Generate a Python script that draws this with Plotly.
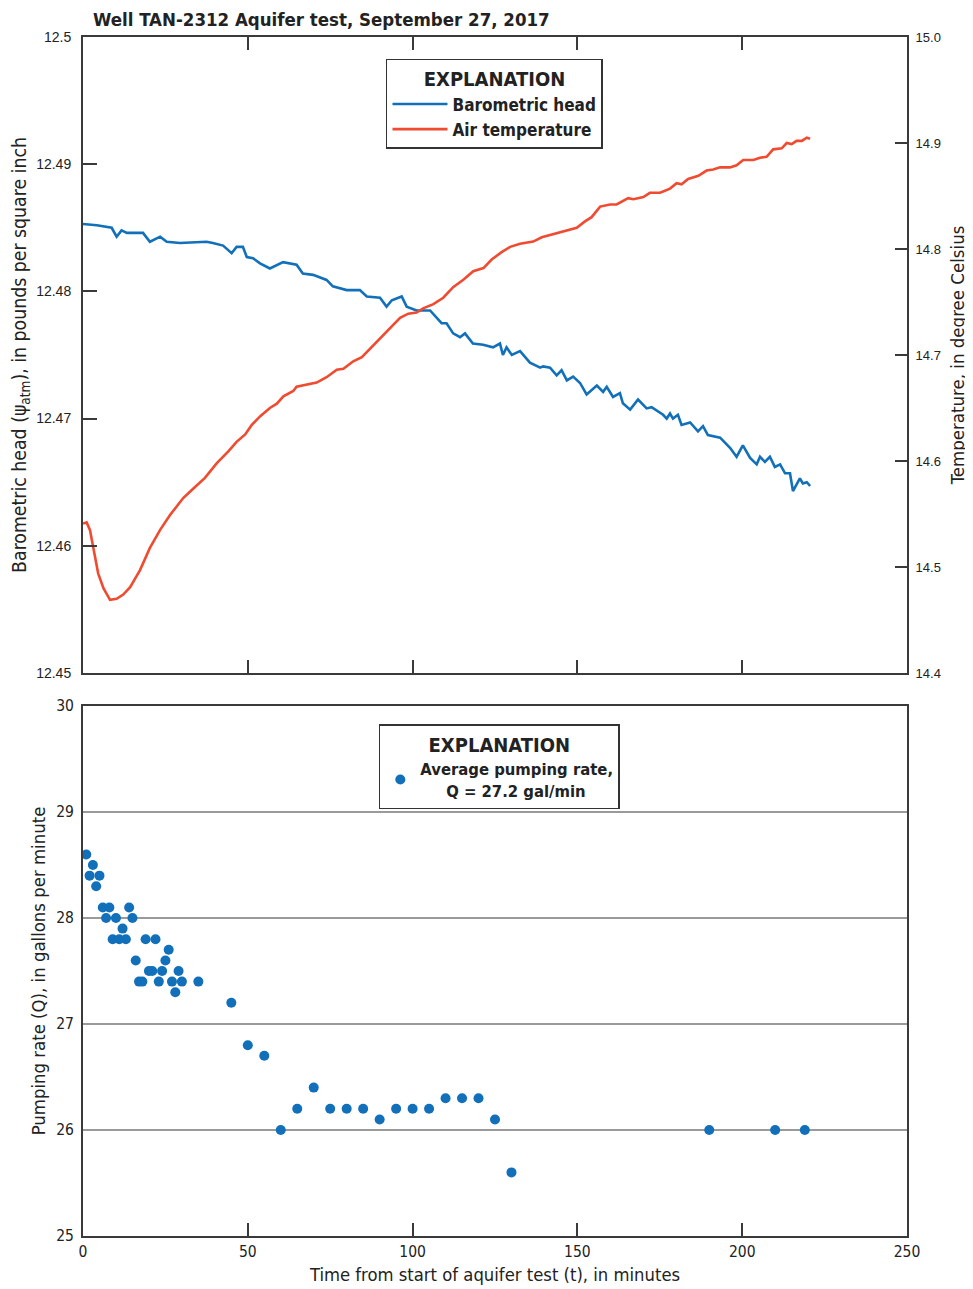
import plotly.graph_objects as go

# ---------------- data ----------------
head_t = [0.0, 4.2, 8.7, 10.2, 11.7, 13.3, 18.2, 20.3, 23.4, 25.4, 29.4, 37.5, 39.4, 42.5, 45.1,
          46.6, 48.5, 49.7, 51.6, 53.7, 56.7, 60.7, 64.8, 66.7, 69.8, 73.9, 75.8, 80.0, 84.0, 86.1,
          90.1, 92.1, 93.7, 96.7, 98.2, 101.2, 105.3, 108.8, 110.3, 112.3, 114.4, 115.9, 118.3,
          121.4, 124.4, 126.5, 127.4, 128.5, 130.1, 132.6, 135.6, 138.7, 139.6, 141.7, 143.7,
          145.2, 146.8, 148.7, 150.8, 152.8, 155.9, 157.8, 158.9, 160.8, 162.9, 163.8, 166.0,
          168.4, 171.0, 172.5, 176.0, 177.1, 178.1, 179.0, 180.5, 181.6, 184.2, 186.6, 188.1,
          189.6, 193.3, 196.3, 198.3, 200.2, 202.4, 204.4, 205.4, 206.9, 208.4, 209.9, 211.5,
          213.0, 214.5, 215.4, 217.5, 218.4, 219.6, 220.6]
head_psi = [12.4853, 12.4852, 12.4850, 12.4843, 12.4848, 12.4846, 12.4846, 12.4839, 12.4843,
            12.4839, 12.4838, 12.4839, 12.4838, 12.4836, 12.4830, 12.4835, 12.4835, 12.4827,
            12.4826, 12.4822, 12.4818, 12.4823, 12.4821, 12.4814, 12.4813, 12.4809, 12.4804,
            12.4801, 12.4801, 12.4796, 12.4795, 12.4788, 12.4793, 12.4796, 12.4788, 12.4785,
            12.4785, 12.4775, 12.4775, 12.4767, 12.4764, 12.4767, 12.4759, 12.4758, 12.4756,
            12.4759, 12.4750, 12.4756, 12.4750, 12.4753, 12.4744, 12.4740, 12.4741, 12.4740,
            12.4734, 12.4738, 12.4730, 12.4733, 12.4728, 12.4719, 12.4726, 12.4721, 12.4725,
            12.4717, 12.4720, 12.4712, 12.4707, 12.4715, 12.4708, 12.4709, 12.4703, 12.4700,
            12.4704, 12.4700, 12.4703, 12.4695, 12.4697, 12.4690, 12.4694, 12.4687, 12.4685,
            12.4677, 12.4670, 12.4679, 12.4669, 12.4664, 12.4670, 12.4666, 12.4670, 12.4662,
            12.4664, 12.4657, 12.4657, 12.4643, 12.4653, 12.4649, 12.4650, 12.4647]

temp_t = [0.0, 1.1, 2.1, 3.1, 4.6, 6.2, 8.2, 10.2, 12.2, 14.3, 17.3, 20.3, 23.4, 26.4, 30.4,
          33.5, 37.0, 40.6, 44.1, 46.6, 49.2, 51.2, 53.7, 56.7, 58.8, 60.8, 63.8, 64.8, 67.9,
          69.9, 70.9, 73.9, 77.0, 79.0, 82.0, 84.6, 87.1, 90.1, 93.1, 96.2, 98.7, 101.2, 103.2,
          106.3, 109.3, 112.3, 115.4, 118.4, 121.5, 124.0, 127.0, 129.6, 132.6, 136.6, 139.2,
          142.7, 145.7, 149.8, 152.3, 154.3, 156.9, 159.9, 161.9, 163.9, 165.4, 167.0, 170.0,
          172.0, 175.1, 178.1, 180.1, 181.6, 183.6, 186.7, 189.2, 191.2, 193.3, 196.3, 198.3,
          200.3, 203.4, 205.4, 207.4, 209.4, 212.0, 213.5, 215.0, 216.5, 218.1, 219.6, 220.6]
temp_c = [14.541, 14.542, 14.535, 14.519, 14.494, 14.480, 14.469, 14.470, 14.474, 14.481,
          14.497, 14.518, 14.535, 14.549, 14.565, 14.574, 14.584, 14.598, 14.609, 14.618,
          14.625, 14.634, 14.642, 14.650, 14.654, 14.661, 14.666, 14.670, 14.672, 14.674,
          14.674, 14.679, 14.686, 14.687, 14.694, 14.698, 14.706, 14.716, 14.725, 14.735,
          14.739, 14.740, 14.744, 14.748, 14.754, 14.764, 14.771, 14.779, 14.782, 14.790,
          14.797, 14.802, 14.805, 14.807, 14.811, 14.814, 14.816, 14.820, 14.826, 14.830,
          14.840, 14.842, 14.842, 14.845, 14.848, 14.847, 14.849, 14.853, 14.853, 14.857,
          14.862, 14.861, 14.866, 14.869, 14.874, 14.875, 14.877, 14.877, 14.879, 14.884,
          14.884, 14.886, 14.887, 14.894, 14.895, 14.900, 14.899, 14.902, 14.902, 14.905,
          14.904]

pump_t = [1, 2, 3, 4, 5, 6, 7, 8, 9, 10, 11, 12, 13, 14, 15, 16, 17, 18, 19, 20, 21, 22, 23,
          24, 25, 26, 27, 28, 29, 30, 35, 45, 50, 55, 60, 65, 70, 75, 80, 85, 90, 95, 100, 105,
          110, 115, 120, 125, 130, 190, 210, 219]
pump_q = [28.6, 28.4, 28.5, 28.3, 28.4, 28.1, 28.0, 28.1, 27.8, 28.0, 27.8, 27.9, 27.8, 28.1,
          28.0, 27.6, 27.4, 27.4, 27.8, 27.5, 27.5, 27.8, 27.4, 27.5, 27.6, 27.7, 27.4, 27.3,
          27.5, 27.4, 27.4, 27.2, 26.8, 26.7, 26.0, 26.2, 26.4, 26.2, 26.2, 26.2, 26.1, 26.2,
          26.2, 26.2, 26.3, 26.3, 26.3, 26.1, 25.6, 26.0, 26.0, 26.0]

head_ticks = [12.45, 12.46, 12.47, 12.48, 12.49, 12.5]
head_ticktext = ["12.45", "12.46", "12.47", "12.48", "12.49", "12.5"]
temp_ticks = [14.4, 14.5, 14.6, 14.7, 14.8, 14.9, 15.0]
x_ticks = [0, 50, 100, 150, 200, 250]
q_ticks = [25, 26, 27, 28, 29, 30]

# ---------------- style ----------------
BLUE = "#1170B9"
RED = "#F04B30"
AX = "#3a3a3a"
TXT = "#222"
NARROW = "DejaVu Sans Condensed, Liberation Sans Narrow, DejaVu Sans, sans-serif"
REG = "Liberation Sans, Arial, sans-serif"

fig = go.Figure()

fig.add_trace(go.Scatter(x=head_t, y=head_psi, mode="lines", name="<b>Barometric head</b>",
                         line=dict(color=BLUE, width=2.6), xaxis="x", yaxis="y",
                         legend="legend"))
fig.add_trace(go.Scatter(x=temp_t, y=temp_c, mode="lines", name="<b>Air temperature</b>",
                         line=dict(color=RED, width=2.6), xaxis="x", yaxis="y2",
                         legend="legend"))
fig.add_trace(go.Scatter(x=pump_t, y=pump_q, mode="markers",
                         name="<b>Average pumping rate,</b><br><b>     Q = 27.2 gal/min</b>",
                         marker=dict(color=BLUE, size=10), xaxis="x2", yaxis="y3",
                         legend="legend2"))

top_dom = [0.4696, 1.0]
bot_dom = [0.0, 0.4420]

fig.update_layout(
    width=965, height=1281,
    paper_bgcolor="white", plot_bgcolor="white",
    margin=dict(l=75, r=66, t=29, b=53),
    font=dict(family=NARROW, color=TXT),
    title=dict(text="<b>Well TAN-2312 Aquifer test, September 27, 2017</b>",
               x=0.0881, xanchor="left", y=0.99102, yanchor="middle",
               font=dict(family=NARROW, size=18.5, color=TXT)),
    showlegend=True,
    xaxis=dict(domain=[0, 1], anchor="y", range=[0, 250], tickvals=x_ticks,
               showticklabels=False, ticks="inside", ticklen=13, tickwidth=1.5,
               tickcolor=AX, showline=True, linecolor=AX, linewidth=2,
               mirror="ticks", showgrid=False, zeroline=False, automargin=False),
    yaxis=dict(domain=top_dom, anchor="x", range=[12.45, 12.5], tickvals=head_ticks,
               ticktext=head_ticktext, ticks="inside", ticklen=14, tickwidth=1.5,
               tickcolor=AX, showline=True, linecolor=AX, linewidth=2, showgrid=False,
               zeroline=False, automargin=False, ticklabelstandoff=7,
               tickfont=dict(family=REG, size=14, color=TXT),
               title=dict(text="Barometric head (ψ<sub>atm</sub>), in pounds per square inch",
                          font=dict(family=NARROW, size=19.3, color=TXT), standoff=13)),
    yaxis2=dict(overlaying="y", side="right", anchor="x", range=[14.4, 15.0],
                tickvals=temp_ticks, tickformat=".1f", ticks="inside", ticklen=12,
                tickwidth=1.5, tickcolor=AX, showline=True, linecolor=AX, linewidth=2,
                showgrid=False, zeroline=False, automargin=False, ticklabelstandoff=4,
                tickfont=dict(family=REG, size=13, color=TXT),
                title=dict(text="Temperature, in degree Celsius",
                           font=dict(family=NARROW, size=18.5, color=TXT), standoff=11)),
    xaxis2=dict(domain=[0, 1], anchor="y3", range=[0, 250], tickvals=x_ticks,
                ticks="inside", ticklen=13, tickwidth=1.5, tickcolor=AX, showline=True,
                linecolor=AX, linewidth=2, mirror=True, showgrid=False, zeroline=False,
                automargin=False,
                tickfont=dict(family=NARROW, size=15.5, color=TXT),
                title=dict(text="Time from start of aquifer test (t), in minutes",
                           font=dict(family=NARROW, size=18.3, color=TXT), standoff=9)),
    yaxis3=dict(domain=bot_dom, anchor="x2", range=[25, 30], tickvals=q_ticks,
                ticks="", showline=True, linecolor=AX, linewidth=2, mirror=True,
                showgrid=True, gridcolor="#9a9a9a", gridwidth=2, zeroline=False,
                automargin=False, ticklabelstandoff=4,
                tickfont=dict(family=NARROW, size=15.5, color=TXT),
                title=dict(text="Pumping rate (Q), in gallons per minute",
                           font=dict(family=NARROW, size=18.4, color=TXT), standoff=6)),
    legend=dict(x=0.3677, y=0.9817, xanchor="left", yanchor="top",
                bgcolor="white", bordercolor="#333", borderwidth=1.5,
                title=dict(text="<b>EXPLANATION</b>", side="top center",
                           font=dict(family=NARROW, size=20, color=TXT)),
                font=dict(family=NARROW, size=17, color=TXT),
                tracegroupgap=0, itemwidth=55),
    legend2=dict(x=0.359, y=0.427, xanchor="left", yanchor="top",
                 bgcolor="white", bordercolor="#333", borderwidth=1.5,
                 title=dict(text="<b>EXPLANATION</b>", side="top center",
                            font=dict(family=NARROW, size=20, color=TXT)),
                 font=dict(family=NARROW, size=16.5, color=TXT),
                 itemwidth=30),
)

fig.write_html("out.html")
